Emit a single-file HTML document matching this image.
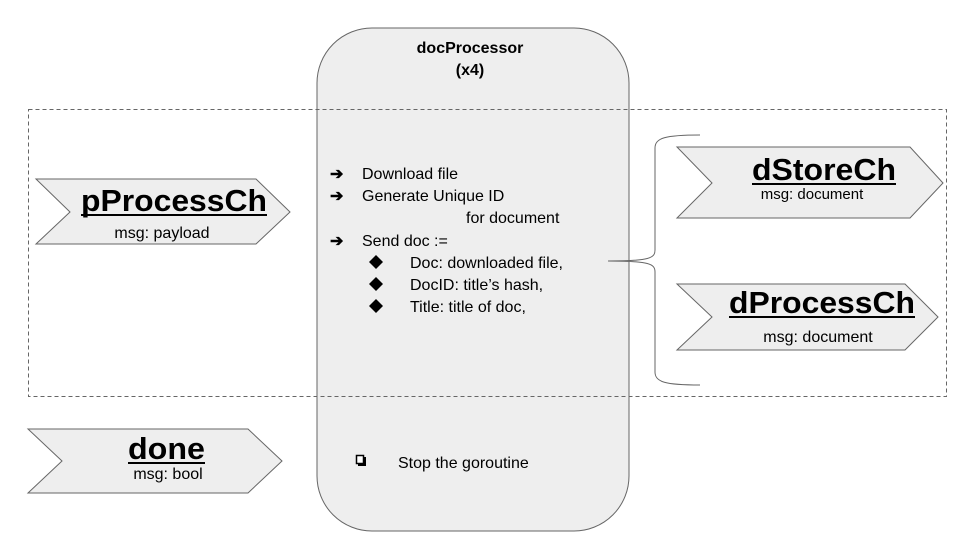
<!DOCTYPE html>
<html><head><meta charset="utf-8"><style>
html,body{margin:0;padding:0;background:#fff;width:960px;height:540px;overflow:hidden}
svg{display:block}
text{font-family:"Liberation Sans",Arial,sans-serif;fill:#000}
</style></head><body>
<svg width="960" height="540" viewBox="0 0 960 540" xmlns="http://www.w3.org/2000/svg">
<rect x="317" y="28" width="312" height="503" rx="55" ry="55" fill="#eeeeee" stroke="#666" stroke-width="1"/>
<rect x="28.5" y="109.5" width="918" height="287" fill="none" stroke="#666" stroke-width="1" stroke-dasharray="4,3"/>
<text x="470" y="53" font-size="16" font-weight="bold" text-anchor="middle">docProcessor</text>
<text x="470" y="75" font-size="16" font-weight="bold" text-anchor="middle">(x4)</text>
<g font-size="16">
<text x="330" y="179" font-weight="bold">➔</text><text x="362" y="179">Download file</text>
<text x="330" y="201" font-weight="bold">➔</text><text x="362" y="201">Generate Unique ID</text>
<text x="466" y="223">for document</text>
<text x="330" y="246" font-weight="bold">➔</text><text x="362" y="246">Send doc :=</text>
<text x="410" y="268">Doc: downloaded file,</text>
<text x="410" y="290">DocID: title’s hash,</text>
<text x="410" y="312">Title: title of doc,</text>
<text x="398" y="468">Stop the goroutine</text>
</g>
<g fill="#000">
<polygon points="376,255 383,262 376,269 369,262"/>
<polygon points="376,277 383,284 376,291 369,284"/>
<polygon points="376,299 383,306 376,313 369,306"/>
</g>
<rect x="356.5" y="455.5" width="7" height="8" fill="#fff" stroke="#000" stroke-width="1.5"/>
<line x1="358" y1="465" x2="366" y2="465" stroke="#000" stroke-width="2"/>
<line x1="365" y1="457" x2="365" y2="465" stroke="#000" stroke-width="2"/>
<path d="M700 135 C665 135 655 138 655 148 L655 250 C655 258 650 261 608 261 C650 261 655 264 655 272 L655 372 C655 382 665 385 700 385" fill="none" stroke="#666" stroke-width="1"/>
<g fill="#eeeeee" stroke="#666" stroke-width="1">
<polygon points="36,179 256,179 290,212 256,244 36,244 70,212"/>
<polygon points="677,147 910,147 943,183 910,218 677,218 712,183"/>
<polygon points="677,284 905,284 938,317 905,350 677,350 712,317"/>
<polygon points="28,429 248,429 282,461 248,493 28,493 62,461"/>
</g>
<text x="81" y="211" font-size="31" font-weight="bold" textLength="186" lengthAdjust="spacingAndGlyphs">pProcessCh</text>
<line x1="81" y1="215" x2="267" y2="215" stroke="#000" stroke-width="2"/>
<text x="162" y="238" font-size="16" text-anchor="middle">msg: payload</text>
<text x="752" y="180" font-size="31" font-weight="bold" textLength="144" lengthAdjust="spacingAndGlyphs">dStoreCh</text>
<line x1="752" y1="184" x2="896" y2="184" stroke="#000" stroke-width="2"/>
<text x="812" y="199" font-size="15" text-anchor="middle">msg: document</text>
<text x="729" y="313" font-size="31" font-weight="bold" textLength="186" lengthAdjust="spacingAndGlyphs">dProcessCh</text>
<line x1="729" y1="317" x2="915" y2="317" stroke="#000" stroke-width="2"/>
<text x="818" y="342" font-size="16" text-anchor="middle">msg: document</text>
<text x="128" y="459" font-size="31" font-weight="bold" textLength="77" lengthAdjust="spacingAndGlyphs">done</text>
<line x1="128" y1="463" x2="205" y2="463" stroke="#000" stroke-width="2"/>
<text x="168" y="479" font-size="16" text-anchor="middle">msg: bool</text>
</svg>
</body></html>
